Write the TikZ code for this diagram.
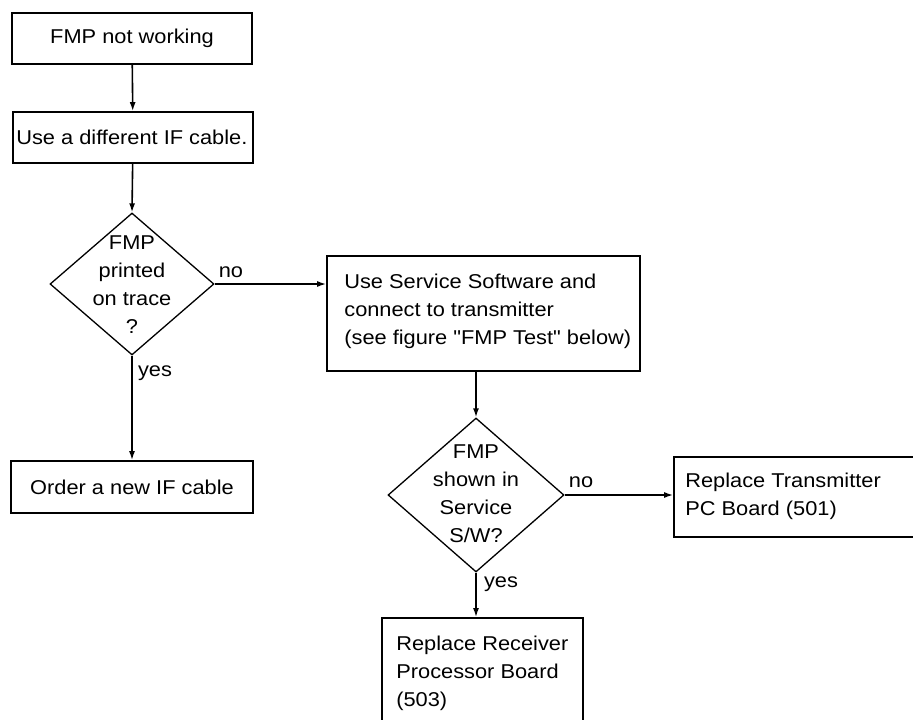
\documentclass[tikz,border=0pt]{standalone}
\usepackage{fontspec}
\setmainfont{Liberation Sans}[FakeStretch=1.09, Ligatures=TeXOff]
\usetikzlibrary{shapes.geometric,arrows.meta}

\tikzset{
  txt/.style={font=\fontsize{20}{28}\selectfont},
  box/.style={draw, line width=1.7pt, inner sep=0pt, txt},
  frame/.style={draw, line width=1.7pt, inner sep=0pt},
  ltext/.style={txt, align=left, inner sep=0pt, anchor=west},
  dia/.style={draw, diamond, line width=1.3pt, inner sep=0pt},
  diatext/.style={txt, align=center, inner sep=0pt},
  lab/.style={txt, inner sep=0pt},
  flow/.style={line width=1.6pt, -{Latex[length=9pt,width=6pt]}},
}

\begin{document}
\begin{tikzpicture}[x=1pt,y=-1pt]
\useasboundingbox (0,0) rectangle (913,720);

% left column
\node[box, minimum width=240pt, minimum height=51pt] (start) at (132,38.5) {FMP not working};
\node[frame, minimum width=240pt, minimum height=51pt] (cable) at (133,137.5) {};
\node[ltext] (cablet) at ([xshift=4pt]cable.west) {Use a different IF cable.};
\node[dia, minimum width=164pt, minimum height=142pt] (q1) at (132,284) {};
\node[diatext] (q1t) at (132,284.5) {FMP\\printed\\on trace\\?};
\node[box, minimum width=242pt, minimum height=52pt] (order) at (132,487) {Order a new IF cable};

% right column
\node[frame, minimum width=313pt, minimum height=115pt] (sw) at (483.5,313.5) {};
\node[ltext] (swt) at ([xshift=18pt,yshift=2.5pt]sw.west)
  {Use Service Software and\\connect to transmitter\\(see figure "FMP Test" below)};
\node[dia, minimum width=176pt, minimum height=154pt] (q2) at (476,495) {};
\node[diatext] (q2t) at (476,493.5) {FMP\\shown in\\Service\\S/W?};
\node[frame, minimum width=260pt, minimum height=80pt] (tx) at (804,497) {};
\node[ltext] (txt) at ([xshift=12pt,yshift=0.5pt]tx.west) {Replace Transmitter\\PC Board (501)};
\node[frame, minimum width=201pt, minimum height=110pt] (rx) at (482.5,673) {};
\node[ltext] (rxt) at ([xshift=15pt]rx.west) {Replace Receiver\\Processor Board\\(503)};

% branch labels
\node[lab] (no1) at (231,272) {no};
\node[lab] (yes1) at (155,373) {yes};
\node[lab] (no2) at (581,482) {no};
\node[lab] (yes2) at (501,584) {yes};

% connectors
\draw[flow] (start) -- (cable);
\draw[flow] (cable) -- (q1.north);
\draw[flow] (q1.east) -- (sw.west |- q1.east);
\draw[flow] (q1.south) -- (order);
\draw[flow] (sw.south -| q2.north) -- (q2.north);
\draw[flow] (q2.east) -- (tx.west |- q2.east);
\draw[flow] (q2.south) -- (rx.north -| q2.south);
\end{tikzpicture}
\end{document}
